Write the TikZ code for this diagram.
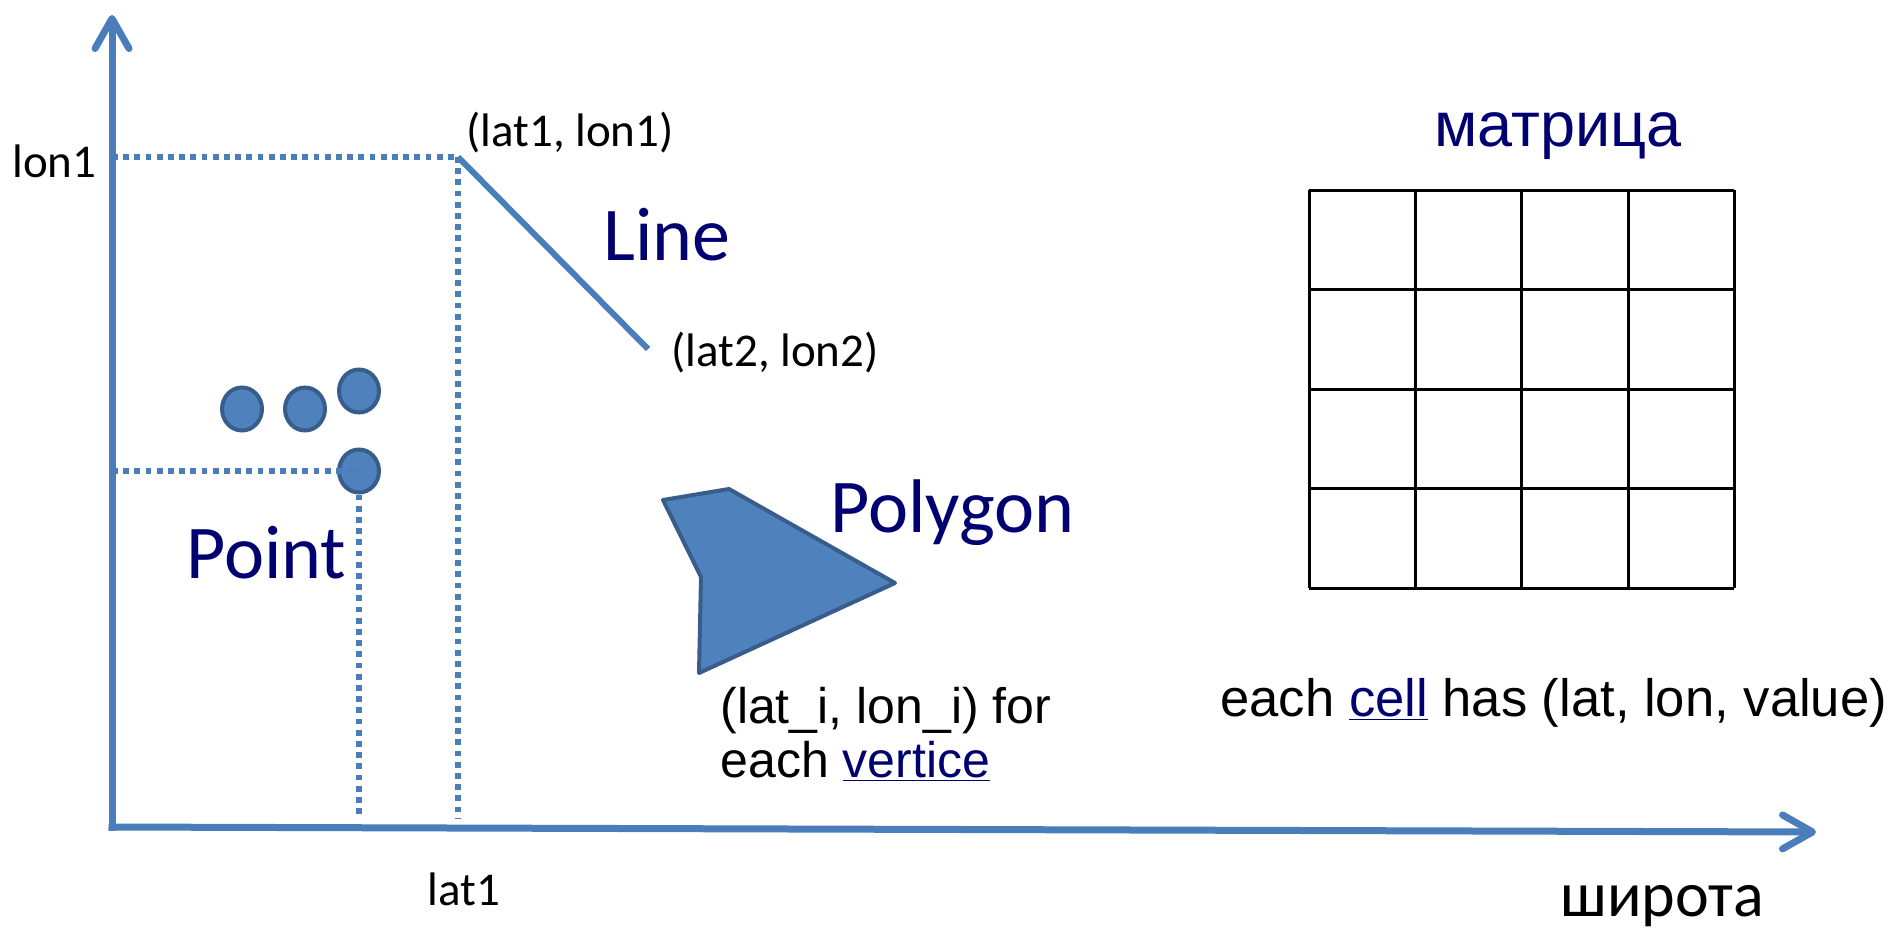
\documentclass[tikz,border=0pt]{standalone}
\usepackage{fontspec}
\setmainfont{Carlito}
\newfontfamily\arialf{Liberation Sans}
\usetikzlibrary{arrows.meta,shapes.geometric}
\definecolor{axisblue}{HTML}{4A7EBB}
\definecolor{fillblue}{HTML}{4F81BD}
\definecolor{edgeblue}{HTML}{385D8A}
\definecolor{navy}{HTML}{000070}
\begin{document}
\begin{tikzpicture}[x=0.5pt,y=-0.5pt,
  axis/.style={draw=axisblue,line width=3.5pt,-{Straight Barb[length=15pt,width=17pt,round]}},
  dotline/.style={draw=axisblue,line width=2.8pt,dash pattern=on 2.9pt off 2.7pt},
  segline/.style={draw=axisblue,line width=3pt},
  ptnode/.style={ellipse,minimum width=20pt,minimum height=21.5pt,inner sep=0pt,fill=fillblue,draw=edgeblue,line width=2pt},
  polyshape/.style={fill=fillblue,draw=edgeblue,line width=2pt,line join=round},
  gridline/.style={draw=black,line width=1.5pt},
  lbl/.style={inner sep=0pt,anchor=base west,font=\fontsize{23.5}{28}\selectfont},
  big/.style={inner sep=0pt,anchor=base west,text=navy,font=\fontsize{38}{46}\selectfont},
  arl/.style={inner sep=0pt,anchor=base west,font=\arialf\fontsize{25}{29}\selectfont}]
\useasboundingbox (0,0) rectangle (1895,931);
% axes
\coordinate (ybot) at (112,830.5);
\coordinate (ytip) at (112,15);
\coordinate (xleft) at (108.5,827);
\coordinate (xtip) at (1816,832);
% line end points
\coordinate (A) at (458,157);
\coordinate (B) at (648,349);
\coordinate (ylon1) at (112,157);
\coordinate (xlat1) at (458,818);
% points
\node[ptnode] (p1) at (242,409) {};
\node[ptnode] (p2) at (305,409) {};
\node[ptnode] (p3) at (359,391) {};
\node[ptnode] (p4) at (359,471) {};
\coordinate (ylon4) at (112,471);
\coordinate (xlat4) at (359,818);
% dotted guides
\draw[dotline] (ylon1) -- (A);
\draw[dotline] (A) -- (xlat1);
\draw[dotline] (ylon4) -- (p4.center);
\draw[dotline] (p4.south) -- (xlat4);
% line
\draw[segline] (A) -- (B);
% axes drawn
\draw[axis] (ybot) -- (ytip);
\draw[axis] (xleft) -- (xtip);
% polygon
\coordinate (v1) at (663,500);
\coordinate (v2) at (729,489);
\coordinate (v3) at (895,583);
\coordinate (v4) at (699,673);
\coordinate (v5) at (701,577);
\draw[polyshape] (v1) -- (v2) -- (v3) -- (v4) -- (v5) -- cycle;
% grid
\foreach \gx in {1309,1415,1521,1628,1734}
  \draw[gridline] (\gx,190) -- (\gx,588);
\foreach \gy in {190,289,389,488,588}
  \draw[gridline] (1309,\gy) -- (1734,\gy);
% labels
\node[lbl] (lon1) at (12,177) {lon1};
\node[lbl] (lat1lon1) at (466,147) {(lat1, lon1)};
\node[lbl] (lat2lon2) at (671,366) {(lat2, lon2)};
\node[lbl] (lat1) at (427,905) {lat1};
\node[lbl,font=\fontsize{32}{38}\selectfont] (shirota) at (1560,916) {широта};
\node[big] (linelbl) at (603,260) {Line};
\node[big] (pointlbl) at (186,578) {Point};
\node[big] (polylbl) at (830,532) {Polygon};
\node[arl,text=navy,font=\arialf\fontsize{31.5}{38}\selectfont] (matr) at (1434,147) {матрица};
\node[arl] (polytxt1) at (720,723) {(lat\_i, lon\_i) for};
\node[arl] (polytxt2) at (720,777) {each \textcolor{navy}{\underline{vertice}}};
\node[arl,font=\arialf\fontsize{26.3}{31}\selectfont] (celltxt) at (1220,716) {each \textcolor{navy}{\underline{cell}} has (lat, lon, value)};
\end{tikzpicture}
\end{document}
